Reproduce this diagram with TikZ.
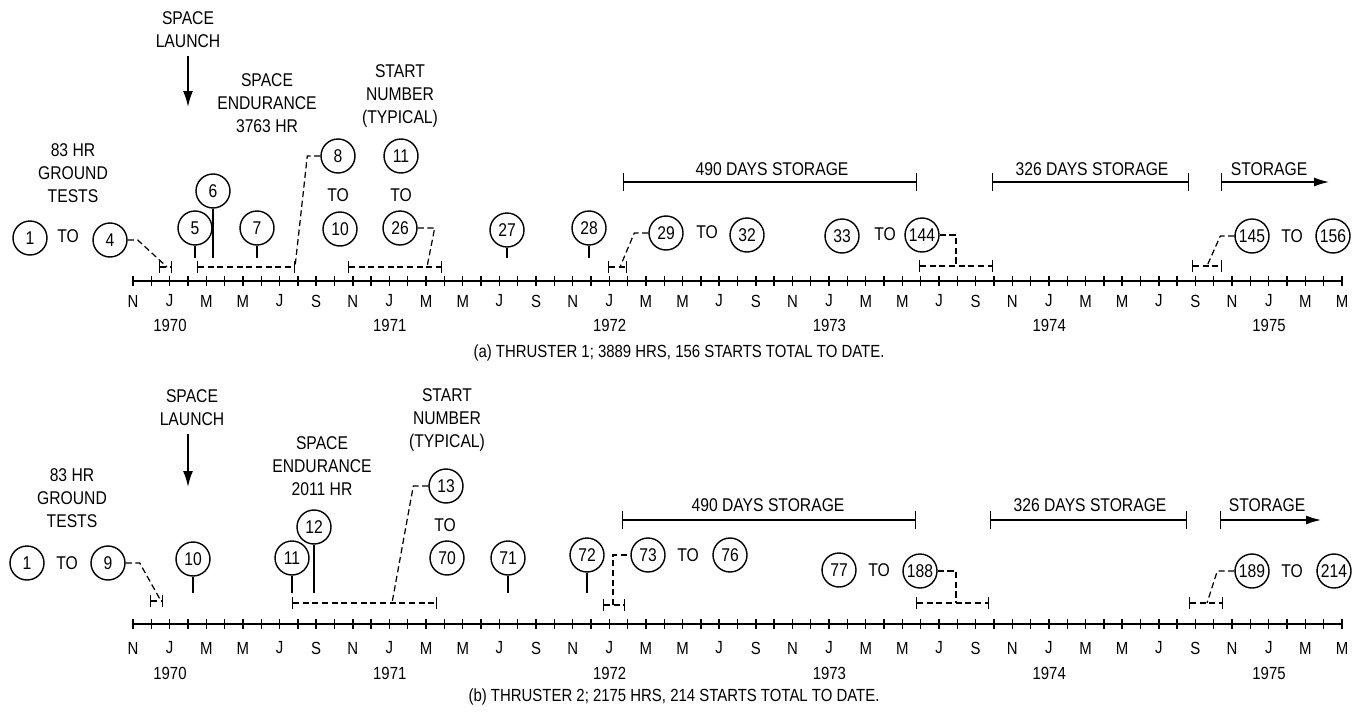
\documentclass[tikz,border=0pt]{standalone}
\usepackage{fontspec}
\setmainfont{Liberation Sans}[FakeStretch=0.85]
\usetikzlibrary{arrows.meta, positioning}
\newcommand\tlfont{\fontsize{10.5}{13}\selectfont}
\newcommand\tlsmall{\fontsize{10}{11}\selectfont}
\newcommand\tlyear{\fontsize{10}{11}\selectfont}
\tikzset{
  startnum/.style={circle, draw, line width=0.8pt, minimum size=0.68cm,
    inner sep=0pt, font=\tlfont},
  note/.style={align=center, font=\tlfont, inner sep=1pt},
  word/.style={font=\tlfont, inner sep=1pt},
  month/.style={font=\tlsmall, inner sep=1pt},
  yearlbl/.style={font=\tlyear, inner sep=1pt},
  caption/.style={font=\fontsize{10}{12}\selectfont, inner sep=1pt},
  axisline/.style={line width=0.8pt},
  stem/.style={line width=0.8pt},
  leader/.style={line width=0.7pt, dash pattern=on 3.5pt off 2pt},
  span/.style={leader, {Bar[width=7pt]}-{Bar[width=7pt]}},
  storage/.style={line width=0.8pt, {Bar[width=10pt]}-{Bar[width=10pt]}},
  storagearrow/.style={line width=0.8pt, {Bar[width=10pt]}-{Latex[length=3mm,width=1.8mm]}},
  launch/.style={line width=1pt, -{Latex[length=3.2mm,width=2mm]}},
}

\begin{document}
\begin{tikzpicture}[x=0.02cm, y=-0.02cm]
  \useasboundingbox (0,0) rectangle (1354,713);

  % month axes, one per thruster
  \foreach \p/\ay/\ly/\yy in {a/281/301/325, b/624/648/673} {
    \draw[axisline] (133,\ay) -- (1342,\ay);
    \foreach \m in {0,...,66}
      \draw[axisline] ({133+18.318*\m},\ay-5) -- ({133+18.318*\m},\ay+5);
    \foreach \lab [count=\i from 0] in {N,J,M,M,J,S,N,J,M,M,J,S,N,J,M,M,J,S,N,J,M,M,J,S,N,J,M,M,J,S,N,J,M,M}
      \node[month] (\p m\i) at ({133+36.636*\i},\ly) {\lab};
    \foreach \yr [count=\i from 0] in {1970,...,1975}
      \node[yearlbl] (\p y\i) at ({170+219.8*\i},\yy) {\yr};
  }

  % (a) thruster 1
  \node[note] (alaunch) at (188,30) {SPACE\\LAUNCH};
  \coordinate (alaunchtip) at (188,107);
  \draw[launch] (alaunch.south) ++(0,6) -- (alaunchtip);
  \node[note] (aground) at (73,173) {83 HR\\GROUND\\TESTS};
  \node[note] (aendur) at (267,103) {SPACE\\ENDURANCE\\3763 HR};
  \node[note] (atypical) at (400,96) {START\\NUMBER\\(TYPICAL)};
  \coordinate (astem) at (0,258);

  \node[startnum] (a1) at (30,238) {1};
  \node[word] (ato1) at (68,236) {TO};
  \node[startnum] (a4) at (110,240) {4};
  \coordinate (agl) at (159,267); \coordinate (agr) at (172,267); \coordinate (agm) at (167,267);
  \draw[span] (agl) -- (agr);
  \draw[leader] (a4.east) -- ++(10,0) -- (agm);

  \node[startnum] (a5) at (195,228) {5};
  \node[startnum] (a6) at (213,191) {6};
  \node[startnum] (a7) at (257,228) {7};
  \draw[stem] (a5.south) -- (a5.south |- astem);
  \draw[stem] (a6.south) -- (a6.south |- astem);
  \draw[stem] (a7.south) -- (a7.south |- astem);
  \coordinate (ael) at (197,267); \coordinate (aer) at (295,267);
  \draw[span] (ael) -- (aer);
  \node[startnum] (a8) at (338,156) {8};
  \node[word] (ato8) at (338,195) {TO};
  \node[startnum] (a10) at (340,229) {10};
  \draw[leader] (a8.west) -- ++(-13,0) -- (aer);

  \node[startnum] (a11) at (401,156) {11};
  \node[word] (ato11) at (401,195) {TO};
  \node[startnum] (a26) at (400,228) {26};
  \coordinate (asl) at (348,267); \coordinate (asr) at (442,267); \coordinate (asm) at (427,267);
  \draw[span] (asl) -- (asr);
  \draw[leader] (a26.east) -- ++(17,0) -- (asm);

  \node[startnum] (a27) at (507,230) {27};
  \node[startnum] (a28) at (589,228) {28};
  \draw[stem] (a27.south) -- (a27.south |- astem);
  \draw[stem] (a28.south) -- (a28.south |- astem);

  \node[startnum] (a29) at (666,233) {29};
  \node[word] (ato29) at (707,232) {TO};
  \node[startnum] (a32) at (747,235) {32};
  \coordinate (ajl) at (608,267); \coordinate (ajr) at (627,267); \coordinate (ajm) at (620,267);
  \draw[span] (ajl) -- (ajr);
  \draw[leader] (a29.west) -- ++(-14,0) -- (ajm);

  \node[startnum] (a33) at (842,236) {33};
  \node[word] (ato33) at (885,234) {TO};
  \node[startnum] (a144) at (922,235) {144};
  \coordinate (aml) at (919,266); \coordinate (amr) at (993,266); \coordinate (amm) at (956,266);
  \draw[span] (aml) -- (amr);
  \draw[leader] (a144.east) -| (amm);

  \node[startnum] (a145) at (1252,236) {145};
  \node[word] (ato145) at (1292,236) {TO};
  \node[startnum] (a156) at (1333,236) {156};
  \coordinate (apl) at (1192,266); \coordinate (apr) at (1222,266); \coordinate (apm) at (1207,266);
  \draw[span] (apl) -- (apr);
  \draw[leader] (a145.west) -- ++(-14,0) -- (apm);

  \node[word] (astore1) at (772,169) {490 DAYS STORAGE};
  \coordinate (as1l) at (623,182); \coordinate (as1r) at (917,182);
  \draw[storage] (as1l) -- (as1r);
  \node[word] (astore2) at (1092,169) {326 DAYS STORAGE};
  \coordinate (as2l) at (992,182); \coordinate (as2r) at (1189,182);
  \draw[storage] (as2l) -- (as2r);
  \node[word] (astore3) at (1269,169) {STORAGE};
  \coordinate (as3l) at (1221,182); \coordinate (as3r) at (1329,182);
  \draw[storagearrow] (as3l) -- (as3r);

  \node[caption] (acap) at (679,353) {(a) THRUSTER 1; 3889 HRS, 156 STARTS TOTAL TO DATE.};

  % (b) thruster 2
  \node[note] (blaunch) at (192,408) {SPACE\\LAUNCH};
  \coordinate (blaunchtip) at (188,487);
  \draw[launch] (blaunchtip |- blaunch.south) ++(0,6) -- (blaunchtip);
  \node[note] (bground) at (72,498) {83 HR\\GROUND\\TESTS};
  \node[note] (bendur) at (322,466) {SPACE\\ENDURANCE\\2011 HR};
  \node[note] (btypical) at (447,420) {START\\NUMBER\\(TYPICAL)};
  \coordinate (bstem) at (0,593);

  \node[startnum] (b1) at (27,563) {1};
  \node[word] (bto1) at (67,563) {TO};
  \node[startnum] (b9) at (108,563) {9};
  \coordinate (bgl) at (150,601); \coordinate (bgr) at (163,601); \coordinate (bgm) at (161,601);
  \draw[span] (bgl) -- (bgr);
  \draw[leader] (b9.east) -- ++(14,0) -- (bgm);

  \node[startnum] (b10) at (193,559) {10};
  \draw[stem] (b10.south) -- (b10.south |- bstem);
  \node[startnum] (b11) at (292,558) {11};
  \node[startnum] (b12) at (314,527) {12};
  \draw[stem] (b11.south) -- (b11.south |- bstem);
  \draw[stem] (b12.south) -- (b12.south |- bstem);
  \coordinate (bel) at (292,603); \coordinate (ber) at (437,603); \coordinate (bem) at (392,603);
  \draw[span] (bel) -- (ber);
  \node[startnum] (b13) at (446,486) {13};
  \node[word] (bto13) at (445,525) {TO};
  \node[startnum] (b70) at (447,558) {70};
  \draw[leader] (b13.west) -- ++(-15,0) -- (bem);

  \node[startnum] (b71) at (508,558) {71};
  \node[startnum] (b72) at (587,555) {72};
  \draw[stem] (b71.south) -- (b71.south |- bstem);
  \draw[stem] (b72.south) -- (b72.south |- bstem);

  \node[startnum] (b73) at (648,555) {73};
  \node[word] (bto73) at (688,555) {TO};
  \node[startnum] (b76) at (730,555) {76};
  \coordinate (bjl) at (603,605); \coordinate (bjr) at (625,605); \coordinate (bjm) at (613,605);
  \draw[span] (bjl) -- (bjr);
  \draw[leader] (bjm) |- (b73.west);

  \node[startnum] (b77) at (839,570) {77};
  \node[word] (bto77) at (879,570) {TO};
  \node[startnum] (b188) at (920,571) {188};
  \coordinate (bml) at (916,603); \coordinate (bmr) at (989,603); \coordinate (bmm) at (956,603);
  \draw[span] (bml) -- (bmr);
  \draw[leader] (b188.east) -| (bmm);

  \node[startnum] (b189) at (1252,571) {189};
  \node[word] (bto189) at (1292,571) {TO};
  \node[startnum] (b214) at (1334,571) {214};
  \coordinate (bpl) at (1189,603); \coordinate (bpr) at (1223,603); \coordinate (bpm) at (1207,603);
  \draw[span] (bpl) -- (bpr);
  \draw[leader] (b189.west) -- ++(-17,0) -- (bpm);

  \node[word] (bstore1) at (768,505) {490 DAYS STORAGE};
  \coordinate (bs1l) at (622,520); \coordinate (bs1r) at (916,520);
  \draw[storage] (bs1l) -- (bs1r);
  \node[word] (bstore2) at (1090,505) {326 DAYS STORAGE};
  \coordinate (bs2l) at (990,520); \coordinate (bs2r) at (1187,520);
  \draw[storage] (bs2l) -- (bs2r);
  \node[word] (bstore3) at (1267,505) {STORAGE};
  \coordinate (bs3l) at (1220,520); \coordinate (bs3r) at (1321,520);
  \draw[storagearrow] (bs3l) -- (bs3r);

  \node[caption] (bcap) at (674,697) {(b) THRUSTER 2; 2175 HRS, 214 STARTS TOTAL TO DATE.};
\end{tikzpicture}
\end{document}
